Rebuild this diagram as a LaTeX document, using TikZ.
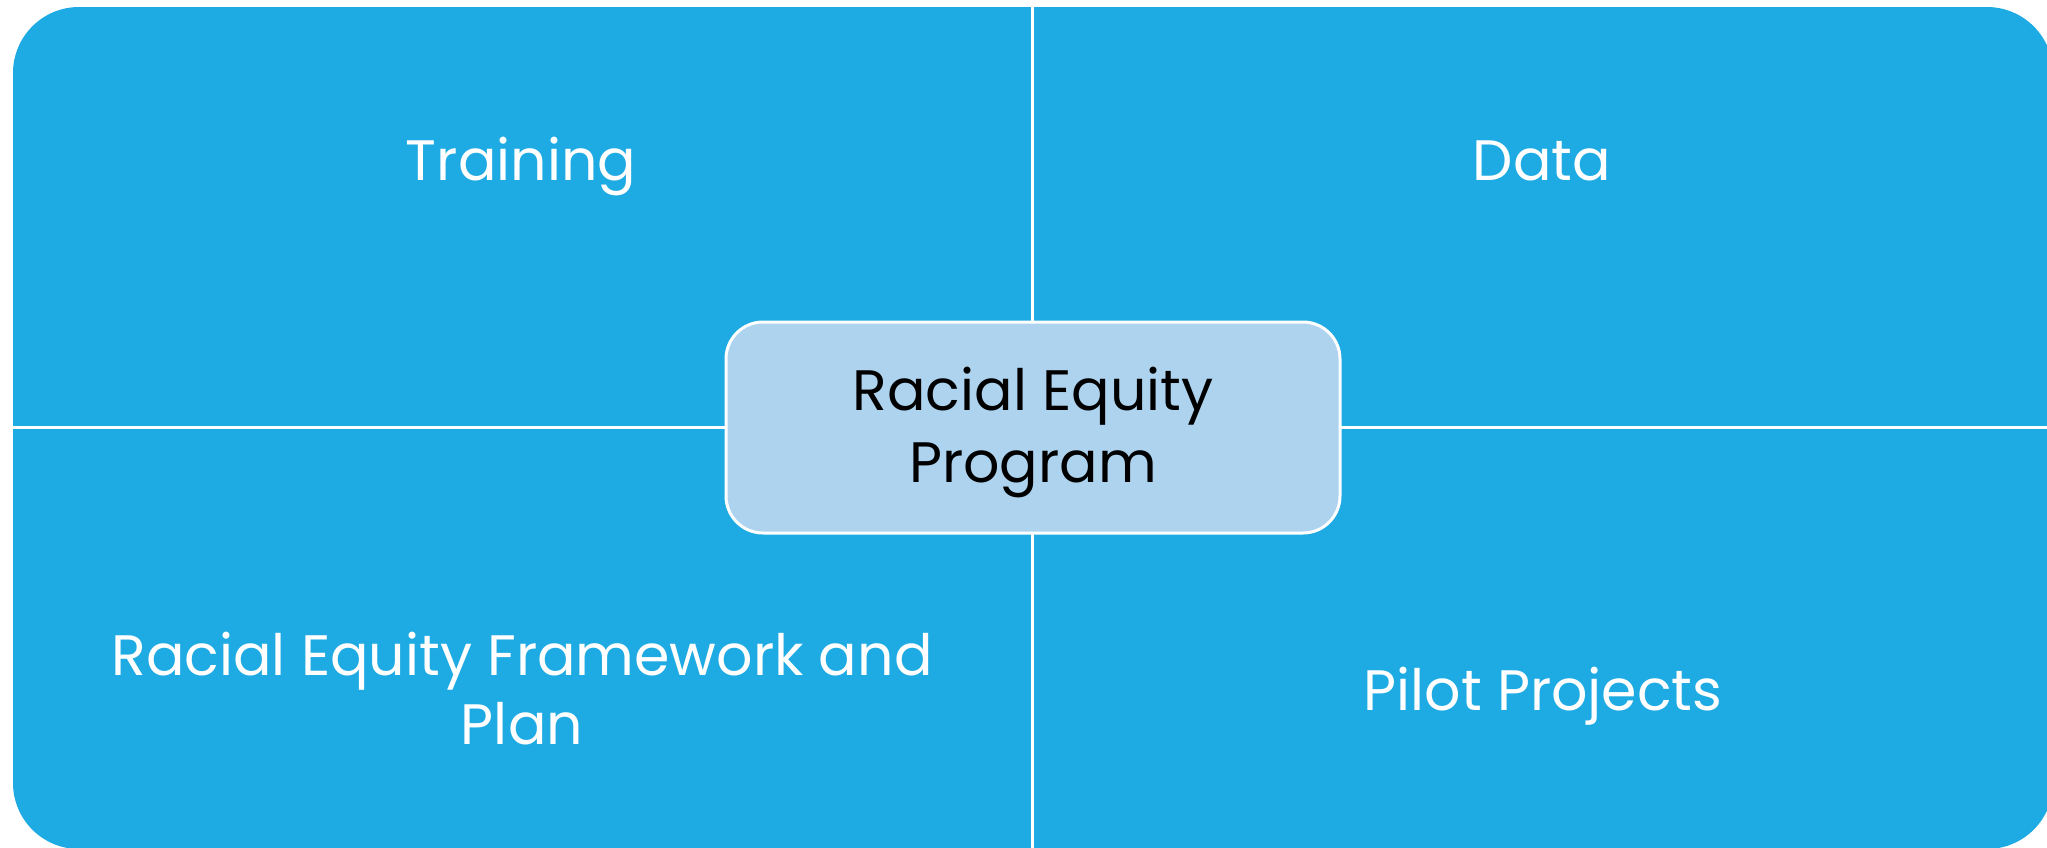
\documentclass[tikz,border=0pt]{standalone}
\usepackage{fontspec}
\setmainfont{Poppins}
\definecolor{quadblue}{HTML}{1EABE3}
\definecolor{hubblue}{HTML}{ADD3EF}
\begin{document}
\begin{tikzpicture}[x=0.5pt,y=-0.5pt,
  quadtext/.style={text=white,font=\fontsize{28.5}{34.5}\selectfont,align=center,anchor=base,inner sep=0pt},
  hubtext/.style={text=black,font=\fontsize{28.5}{36}\selectfont,align=center,inner sep=0pt},
  divider/.style={draw=white,line width=1.5pt},
  hubbox/.style={draw=white,line width=1.5pt,fill=hubblue,rounded corners=18.5pt}]
  \useasboundingbox (0,0) rectangle (2047,847);
  \clip (0,0) rectangle (2047,847);
  % four quadrants sharing one rounded outline
  \fill[quadblue,rounded corners=33pt] (13,7) rectangle (2053,849);
  \coordinate (ctop) at (1032,0);
  \coordinate (cbot) at (1032,849);
  \coordinate (cleft) at (13,427.5);
  \coordinate (cright) at (2053,427.5);
  \draw[divider] (ctop) -- (cbot);
  \draw[divider] (cleft) -- (cright);
  % quadrant labels (multi-line nodes sit on the baseline of their last line)
  \node[quadtext] (training) at (521,180) {Training};
  \node[quadtext] (data) at (1542,180) {Data};
  \node[quadtext] (framework) at (522,744) {Racial Equity Framework and\\Plan};
  \node[quadtext] (pilot) at (1543,710) {Pilot Projects};
  % central hub
  \draw[hubbox] (726,322) rectangle (1340,533);
  \node[hubtext,anchor=base] (hub) at (1033,482) {Racial Equity\\Program};
\end{tikzpicture}
\end{document}
